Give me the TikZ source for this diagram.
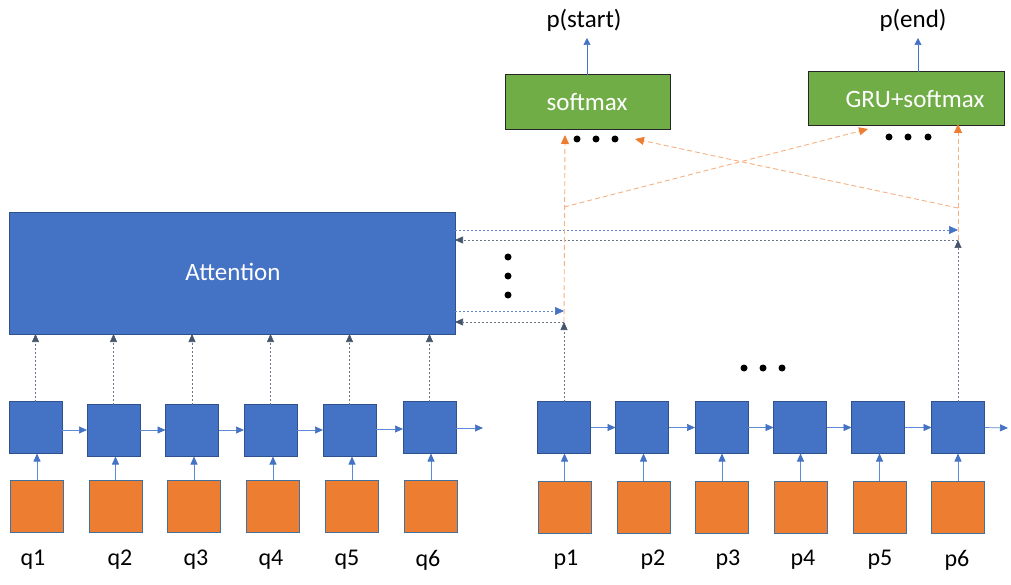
\documentclass[tikz,border=0pt]{standalone}
\usepackage{fontspec}
\setmainfont{Carlito}
\usetikzlibrary{arrows.meta}
\definecolor{boxblue}{HTML}{4472C4}
\definecolor{boxborder}{HTML}{2F528F}
\definecolor{boxorange}{HTML}{ED7D31}
\definecolor{orangeborder}{HTML}{41719C}
\definecolor{boxgreen}{HTML}{70AD47}
\definecolor{arrowblue}{HTML}{5B8BD6}
\definecolor{grayline}{HTML}{44546A}
\definecolor{orangeline}{HTML}{F4B183}
\tikzset{
  rnn/.style={draw=boxborder, fill=boxblue, line width=0.8pt, minimum width=53pt, minimum height=52pt, inner sep=0pt, outer sep=0pt},
  emb/.style={draw=orangeborder, fill=boxorange, line width=0.8pt, minimum width=53pt, minimum height=52pt, inner sep=0pt, outer sep=0pt},
  lbl/.style={font=\fontsize{24}{28}\selectfont, text=black, inner sep=0pt},
  flow/.style={draw=arrowblue, line width=0.7pt, -{Triangle[length=8pt,width=7pt,fill=boxblue,color=boxblue]}},
  outarr/.style={draw=boxblue, line width=0.6pt, -{Triangle[length=7pt,width=7pt,fill=boxblue,color=boxblue]}},
  attnarr/.style={draw=grayline!80, line width=0.6pt, dash pattern=on 2pt off 2pt, -{Triangle[length=8pt,width=7pt,fill=grayline,color=grayline]}},
  fwdarr/.style={draw=boxblue!85, line width=0.6pt, dash pattern=on 2pt off 2pt, -{Triangle[length=9pt,width=8pt,fill=boxblue,color=boxblue]}},
  orangearr/.style={draw=orangeline, line width=0.9pt, dash pattern=on 5pt off 3pt, -{Triangle[length=9pt,width=8pt,fill=boxorange,color=boxorange]}},
  bigdot/.style={circle, fill=black, minimum size=7pt, inner sep=0pt},
  outbox/.style={draw=black!85, fill=boxgreen, line width=1pt, inner sep=0pt, outer sep=0pt, text=white, font=\fontsize{24}{28}\selectfont}
}
\begin{document}
\begin{tikzpicture}[x=1pt,y=-1pt]
\useasboundingbox (0,0) rectangle (1011,585);

% Attention box
\node[draw=boxborder, fill=boxblue, line width=0.8pt, minimum width=446pt, minimum height=122pt, inner sep=0pt, outer sep=0pt] (att) at (232,273) {};
\node[text=white, font=\fontsize{25}{28}\selectfont] (atttext) at (233,272) {Attention};

% output boxes
\node[outbox, minimum width=165pt, minimum height=55pt] (smax) at (587.5,102.5) {};
\node[text=white, font=\fontsize{25}{28}\selectfont] (smaxtext) at (587,102) {softmax};
\node[outbox, minimum width=196pt, minimum height=54pt] (gru) at (906,99) {};
\node[text=white, font=\fontsize{25}{28}\selectfont] (grutext) at (915,99) {GRU+softmax};

\node[lbl, font=\fontsize{25}{28}\selectfont] (pstart) at (584,20) {p(start)};
\node[lbl, font=\fontsize{25}{28}\selectfont] (pend) at (913,20) {p(end)};
\coordinate (pst) at (587,38);
\coordinate (pen) at (918,38);
\draw[outarr] (smax.north -| pst) -- (pst);
\draw[outarr] (gru.north -| pen) -- (pen);

% dots
\node[bigdot] (sd1) at (577,139) {};
\node[bigdot] (sd2) at (596,139) {};
\node[bigdot] (sd3) at (615,139) {};
\node[bigdot] (gd1) at (889,137) {};
\node[bigdot] (gd2) at (908,137) {};
\node[bigdot] (gd3) at (928,137) {};
\node[bigdot] (vd1) at (508,257) {};
\node[bigdot] (vd2) at (508,276) {};
\node[bigdot] (vd3) at (508,295) {};
\node[bigdot] (hd1) at (744,368) {};
\node[bigdot] (hd2) at (763,368) {};
\node[bigdot] (hd3) at (782,368) {};

% question encoder
\node[rnn] (qb1) at (35.5,427.5) {};
\node[rnn] (qb2) at (113.5,430.5) {};
\node[rnn] (qb3) at (192,430.5) {};
\node[rnn] (qb4) at (270.5,430.5) {};
\node[rnn] (qb5) at (349.5,430.5) {};
\node[rnn] (qb6) at (429.5,427.5) {};
\node[emb] (qe1) at (37,506) {};
\node[emb] (qe2) at (115.5,506) {};
\node[emb] (qe3) at (194,506) {};
\node[emb] (qe4) at (273,506) {};
\node[emb] (qe5) at (352,506) {};
\node[emb] (qe6) at (431,506) {};
\node[lbl] (ql1) at (33,560) {q1};
\node[lbl] (ql2) at (120,560) {q2};
\node[lbl] (ql3) at (196,560) {q3};
\node[lbl] (ql4) at (271,560) {q4};
\node[lbl] (ql5) at (347,560) {q5};
\node[lbl] (ql6) at (428,560) {q6};
\coordinate (qend) at (483,428);

\foreach \i in {1,...,6} {
  \draw[flow] (qe\i.north) -- (qe\i.north |- qb\i.south);
  \draw[attnarr] (qb\i.north) -- (qb\i.north |- att.south);
}
\draw[flow] (qb1.east |- 0,430) -- (qb2.west |- 0,430);
\draw[flow] (qb2.east |- 0,430) -- (qb3.west |- 0,430);
\draw[flow] (qb3.east |- 0,430) -- (qb4.west |- 0,430);
\draw[flow] (qb4.east |- 0,430) -- (qb5.west |- 0,430);
\draw[flow] (qb5.east |- 0,429) -- (qb6.west |- 0,429);
\draw[flow] (qb6.east |- qend) -- (qend);

% passage encoder
\node[rnn] (pb1) at (564,427.5) {};
\node[rnn] (pb2) at (642,427.5) {};
\node[rnn] (pb3) at (721.5,427.5) {};
\node[rnn] (pb4) at (800,427.5) {};
\node[rnn] (pb5) at (878,427.5) {};
\node[rnn] (pb6) at (958,427.5) {};
\node[emb] (pe1) at (564.5,507) {};
\node[emb] (pe2) at (643.5,507) {};
\node[emb] (pe3) at (722,507) {};
\node[emb] (pe4) at (800.5,507) {};
\node[emb] (pe5) at (879.5,507) {};
\node[emb] (pe6) at (958,507) {};
\node[lbl] (pl1) at (566,560) {p1};
\node[lbl] (pl2) at (653,560) {p2};
\node[lbl] (pl3) at (728,560) {p3};
\node[lbl] (pl4) at (803,560) {p4};
\node[lbl] (pl5) at (880,560) {p5};
\node[lbl] (pl6) at (957,560) {p6};
\coordinate (pend2) at (1008,428);

\foreach \i in {1,...,6} {
  \draw[flow] (pe\i.north) -- (pe\i.north |- pb\i.south);
}
\draw[flow] (pb1.east) -- (pb2.west);
\draw[flow] (pb2.east) -- (pb3.west);
\draw[flow] (pb3.east) -- (pb4.west);
\draw[flow] (pb4.east) -- (pb5.west);
\draw[flow] (pb5.east) -- (pb6.west);
\draw[flow] (pb6.east) -- (pend2);

% p1 / p6 column attention links
\coordinate (c1) at (564,322);
\coordinate (c1b) at (564,311);
\coordinate (c6) at (958,240);
\coordinate (c6b) at (958,230);
\draw[attnarr] (pb1.north) -- (c1);
\draw[attnarr] (c1) -- (c1 -| att.east);
\draw[fwdarr] (att.east |- c1b) -- (c1b);
\draw[attnarr] (pb6.north) -- (c6);
\draw[attnarr] (c6) -- (c6 -| att.east);
\draw[fwdarr] (att.east |- c6b) -- (c6b);

% orange links
\coordinate (o1) at (564,207);
\coordinate (o6) at (958,208);
\coordinate (s1) at (565,135);
\coordinate (s2) at (635,139);
\coordinate (g1) at (868,129);
\coordinate (g2) at (958,124);
\draw[orangearr] (c1) -- (s1);
\draw[orangearr] (o1) -- (g1);
\draw[orangearr] (c6) -- (g2);
\draw[orangearr] (o6) -- (s2);
\end{tikzpicture}
\end{document}
